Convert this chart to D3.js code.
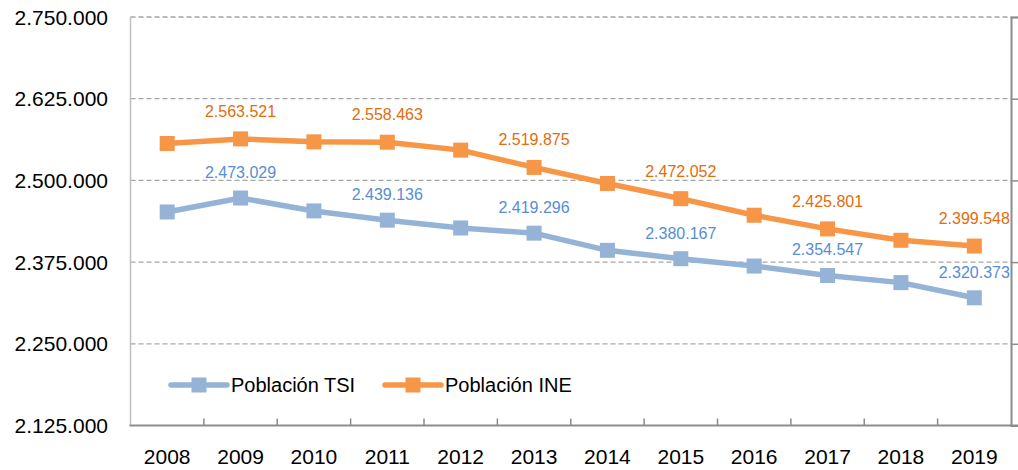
<!DOCTYPE html>
<html><head><meta charset="utf-8">
<script src="https://cdn.jsdelivr.net/npm/d3@7"></script>
<style>
html,body{margin:0;padding:0;background:#fff;}
text{font-family:"Liberation Sans",Arial,sans-serif;}
</style></head>
<body><svg id="chart" width="1018" height="470"></svg>
<script>
const years = ["2008","2009","2010","2011","2012","2013","2014","2015","2016","2017","2018","2019"];
const poblacionTSI = [2451700, 2473029, 2453300, 2439136, 2427200, 2419296, 2393000, 2380167, 2369000, 2354547, 2343600, 2320373];
const poblacionINE = [2556500, 2563521, 2559000, 2558463, 2546300, 2519875, 2495300, 2472052, 2446700, 2425801, 2408400, 2399548];
const yTicks = [2125000, 2250000, 2375000, 2500000, 2625000, 2750000];
const seriesNames = ["Población TSI", "Población INE"];
const labelIdx = [1,3,5,7,9,11];

const svg = d3.select("#chart");
const L = 130.5, R = 1011, T = 17, B = 425.5;
const x = d3.scaleBand().domain(years).range([L, R]);
const y = d3.scaleLinear().domain([2125000, 2750000]).range([B, T]);
const fmt = v => d3.format(",")(v).replace(/,/g, ".");

// gridlines
svg.append("g").selectAll("line").data(yTicks.slice(1)).join("line")
  .attr("x1", L).attr("x2", R).attr("y1", d => y(d)).attr("y2", d => y(d))
  .attr("stroke", "#a6a6a6").attr("stroke-width", 1.3).attr("stroke-dasharray", "5,3");

// right axis with outward ticks
const rAxis = svg.append("g").attr("transform", `translate(${R},0)`)
  .call(d3.axisRight(y).tickValues(yTicks).tickSize(7).tickFormat(""));
rAxis.select(".domain").attr("stroke", "#8c8c8c").attr("stroke-width", 2);
rAxis.selectAll(".tick line").attr("stroke", "#8c8c8c").attr("stroke-width", 1.5);

// left axis
svg.append("line").attr("x1", L).attr("x2", L).attr("y1", T).attr("y2", B)
  .attr("stroke", "#bfbfbf").attr("stroke-width", 1.5);
svg.append("g").selectAll("text").data(yTicks).join("text")
  .attr("x", 108).attr("y", d => y(d)).attr("dy", "0.36em")
  .attr("text-anchor", "end").attr("font-size", 21).attr("fill", "#000")
  .text(fmt);

// bottom axis
svg.append("line").attr("x1", L - 1).attr("x2", 1018).attr("y1", B).attr("y2", B)
  .attr("stroke", "#8c8c8c").attr("stroke-width", 2);
svg.append("g").selectAll("line").data(years.slice(1)).join("line")
  .attr("x1", d => x(d)).attr("x2", d => x(d)).attr("y1", B).attr("y2", B - 7)
  .attr("stroke", "#8c8c8c").attr("stroke-width", 1.5);
svg.append("g").selectAll("text").data(years).join("text")
  .attr("x", d => x(d) + x.bandwidth() / 2).attr("y", 464)
  .attr("text-anchor", "middle").attr("font-size", 21).attr("fill", "#000")
  .text(d => d);

const cx = (d, i) => x(years[i]) + x.bandwidth() / 2;
const series = [
  {name: seriesNames[0], values: poblacionTSI, color: "#95b3d7", label: "#558ed5", off: -20},
  {name: seriesNames[1], values: poblacionINE, color: "#f79646", label: "#e46c0a", off: -22}
];
const line = d3.line().x(cx).y(d => y(d));
series.forEach(s => {
  svg.append("path").datum(s.values).attr("d", line)
    .attr("fill", "none").attr("stroke", s.color).attr("stroke-width", 5.5)
    .attr("stroke-linejoin", "round");
  svg.append("g").selectAll("rect").data(s.values).join("rect")
    .attr("x", (d, i) => cx(d, i) - 7.5).attr("y", d => y(d) - 7.5)
    .attr("width", 15).attr("height", 15).attr("fill", s.color);
  svg.append("g").selectAll("text").data(labelIdx).join("text")
    .attr("x", i => cx(null, i)).attr("y", i => y(s.values[i]) + s.off)
    .attr("text-anchor", "middle").attr("font-size", 16).attr("fill", s.label)
    .text(i => fmt(s.values[i]));
});

// legend
const leg = [{x0: 171, text: 231}, {x0: 385, text: 445}];
series.forEach((s, k) => {
  const g = svg.append("g");
  const x0 = leg[k].x0, ly = 385;
  g.append("line").attr("x1", x0).attr("x2", x0 + 56).attr("y1", ly).attr("y2", ly)
    .attr("stroke", s.color).attr("stroke-width", 5.5).attr("stroke-linecap", "round");
  g.append("rect").attr("x", x0 + 28 - 7.5).attr("y", ly - 7.5).attr("width", 15).attr("height", 15).attr("fill", s.color);
  g.append("text").attr("x", leg[k].text).attr("y", ly).attr("dy", "0.36em")
    .attr("font-size", 20).attr("fill", "#000").text(s.name);
});
</script></body></html>
